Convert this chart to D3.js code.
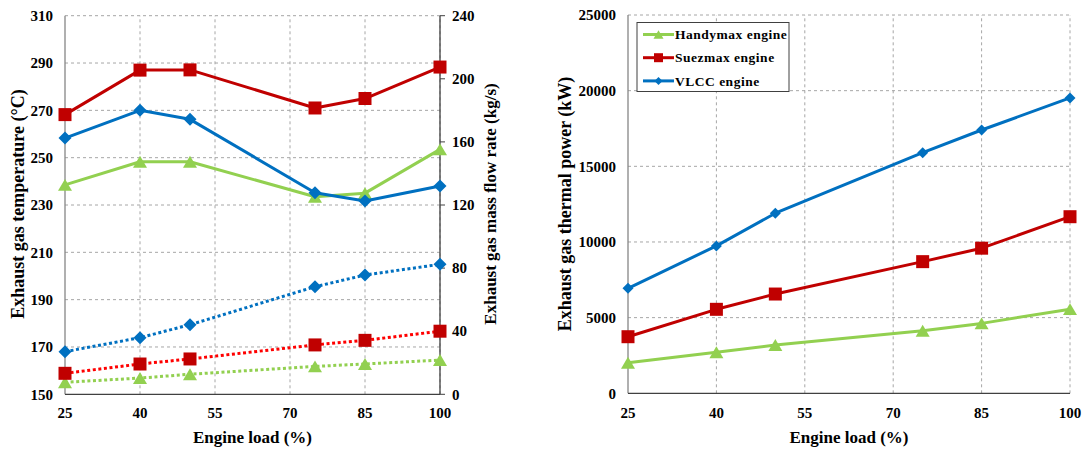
<!DOCTYPE html>
<html>
<head>
<meta charset="utf-8">
<script src="https://cdnjs.cloudflare.com/ajax/libs/d3/7.8.5/d3.min.js"></script>
<style>
    html, body { margin: 0; padding: 0; background: #fff; }
    svg { display: block; }
</style>
</head>
<body>
<svg id="chart" width="1088" height="450" font-family="'Liberation Serif', 'DejaVu Serif', serif" font-weight="bold"></svg>
<script>
// engine load points and axis ticks
var loads = [25, 40, 50, 75, 85, 100];
var loadTicks = [25, 40, 55, 70, 85, 100];
var tempTicks = [150, 170, 190, 210, 230, 250, 270, 290, 310];
var flowTicks = [0, 40, 80, 120, 160, 200, 240];
var powerTicks = [0, 5000, 10000, 15000, 20000, 25000];

// exhaust gas temperature (degC)
var tempHandymax = [238.5, 248.3, 248.3, 233.5, 235, 253.5];
var tempSuezmax = [268.2, 287, 287.1, 271, 275, 288.3];
var tempVLCC = [258.3, 270, 266.2, 235.2, 231.7, 238];

// exhaust gas mass flow rate (kg/s)
var flowHandymax = [7.6, 10.3, 12.7, 17.7, 19.2, 21.7];
var flowSuezmax = [13.3, 19.2, 22.4, 31.3, 34.2, 40];
var flowVLCC = [27, 35.9, 44.1, 68.2, 75.6, 82.4];

// exhaust gas thermal power (kW)
var powerHandymax = [2020, 2710, 3190, 4130, 4620, 5560];
var powerSuezmax = [3740, 5550, 6560, 8700, 9590, 11670];
var powerVLCC = [6940, 9740, 11900, 15900, 17400, 19520];

var legendNames = ['Handymax engine', 'Suezmax engine', 'VLCC engine'];

var GREEN = '#92D050', RED = '#C00000', BRIGHT_RED = '#FF0000', BLUE = '#0070C0';
var GRID = '#A6A6A6';

var svg = d3.select('#chart');

function markerPath(type, r) {
    if (type === 'square') {
        return 'M' + (-r) + ',' + (-r) + 'H' + r + 'V' + r + 'H' + (-r) + 'Z';
    } else if (type === 'diamond') {
        return 'M0,' + (-r) + 'L' + r + ',0L0,' + r + 'L' + (-r) + ',0Z';
    } else {
        var h = r * 1.7;
        return 'M0,' + (-h / 2) + 'L' + r + ',' + (h / 2) + 'L' + (-r) + ',' + (h / 2) + 'Z';
    }
}

function drawGrid(g, x, y, yTicks) {
    var xr = x.range(), yr = y.range();
    g.append('g').selectAll('line').data(loadTicks.slice(1)).enter().append('line')
        .attr('x1', function(d) { return x(d); }).attr('x2', function(d) { return x(d); })
        .attr('y1', yr[0]).attr('y2', yr[1])
        .attr('stroke', GRID).attr('stroke-width', 1).attr('stroke-dasharray', '3,3');
    g.append('g').selectAll('line').data(yTicks.slice(1)).enter().append('line')
        .attr('x1', xr[0]).attr('x2', xr[1])
        .attr('y1', function(d) { return y(d); }).attr('y2', function(d) { return y(d); })
        .attr('stroke', GRID).attr('stroke-width', 1).attr('stroke-dasharray', '3,3');
}

function drawSeries(g, x, y, values, color, markerColor, marker, r, dotted) {
    var pts = loads.map(function(l, i) { return [l, values[i]]; });
    var line = d3.line().x(function(d) { return x(d[0]); }).y(function(d) { return y(d[1]); });
    g.append('path')
        .datum(pts)
        .attr('d', line)
        .attr('fill', 'none')
        .attr('stroke', color)
        .attr('stroke-width', 3)
        .attr('stroke-dasharray', dotted ? '3,2.6' : null)
        .attr('stroke-linejoin', 'round');
    g.append('g').selectAll('path').data(pts).enter().append('path')
        .attr('d', markerPath(marker, r))
        .attr('transform', function(d) { return 'translate(' + x(d[0]) + ',' + y(d[1]) + ')'; })
        .attr('fill', markerColor);
}

function xAxisLabels(g, x, yPos) {
    g.append('g').selectAll('text').data(loadTicks).enter().append('text')
        .attr('x', function(d) { return x(d); })
        .attr('y', yPos)
        .attr('text-anchor', 'middle')
        .attr('font-size', 15)
        .text(function(d) { return d; });
}

// ---------- left chart: temperature + mass flow ----------
var xL = d3.scaleLinear().domain([25, 100]).range([65, 440]);
var yTemp = d3.scaleLinear().domain([150, 310]).range([394.3, 15.7]);
var yFlow = d3.scaleLinear().domain([0, 240]).range([394.3, 15.7]);

var gL = svg.append('g');
drawGrid(gL, xL, yTemp, tempTicks);

// axes lines
gL.append('line').attr('x1', 65).attr('x2', 65).attr('y1', 15.7).attr('y2', 394.3)
    .attr('stroke', '#868686').attr('stroke-width', 1.3);
gL.append('line').attr('x1', 440).attr('x2', 440).attr('y1', 15.7).attr('y2', 394.3)
    .attr('stroke', '#404040').attr('stroke-width', 1.3);
gL.append('line').attr('x1', 65).attr('x2', 440).attr('y1', 394.3).attr('y2', 394.3)
    .attr('stroke', '#404040').attr('stroke-width', 1.3);
gL.append('g').selectAll('line').data(flowTicks).enter().append('line')
    .attr('x1', 440).attr('x2', 445)
    .attr('y1', function(d) { return yFlow(d); }).attr('y2', function(d) { return yFlow(d); })
    .attr('stroke', '#404040').attr('stroke-width', 1);

drawSeries(gL, xL, yFlow, flowHandymax, GREEN, GREEN, 'triangle', 7, true);
drawSeries(gL, xL, yFlow, flowSuezmax, BRIGHT_RED, RED, 'square', 6.5, true);
drawSeries(gL, xL, yFlow, flowVLCC, BLUE, BLUE, 'diamond', 6.5, true);
drawSeries(gL, xL, yTemp, tempHandymax, GREEN, GREEN, 'triangle', 7, false);
drawSeries(gL, xL, yTemp, tempSuezmax, RED, RED, 'square', 6.5, false);
drawSeries(gL, xL, yTemp, tempVLCC, BLUE, BLUE, 'diamond', 6.5, false);

gL.append('g').selectAll('text').data(tempTicks).enter().append('text')
    .attr('x', 53).attr('y', function(d) { return yTemp(d); })
    .attr('dy', '0.35em').attr('text-anchor', 'end').attr('font-size', 15)
    .text(function(d) { return d; });
gL.append('g').selectAll('text').data(flowTicks).enter().append('text')
    .attr('x', 452).attr('y', function(d) { return yFlow(d); })
    .attr('dy', '0.35em').attr('text-anchor', 'start').attr('font-size', 15)
    .text(function(d) { return d; });
xAxisLabels(gL, xL, 418);

gL.append('text').attr('x', 252.5).attr('y', 443).attr('text-anchor', 'middle')
    .attr('font-size', 17).text('Engine load (%)');
gL.append('text').attr('transform', 'translate(24,204) rotate(-90)').attr('text-anchor', 'middle')
    .attr('font-size', 18).text('Exhaust gas temperature (\u00B0C)');
gL.append('text').attr('transform', 'translate(496,204) rotate(-90)').attr('text-anchor', 'middle')
    .attr('font-size', 17).text('Exhaust gas mass flow rate (kg/s)');

// ---------- right chart: thermal power ----------
var xR = d3.scaleLinear().domain([25, 100]).range([628, 1070]);
var yPow = d3.scaleLinear().domain([0, 25000]).range([393.3, 15]);

var gR = svg.append('g');
drawGrid(gR, xR, yPow, powerTicks);
gR.append('line').attr('x1', 628).attr('x2', 628).attr('y1', 15).attr('y2', 393.3)
    .attr('stroke', '#868686').attr('stroke-width', 1.3);
gR.append('line').attr('x1', 628).attr('x2', 1070).attr('y1', 393.3).attr('y2', 393.3)
    .attr('stroke', '#404040').attr('stroke-width', 1.3);

drawSeries(gR, xR, yPow, powerHandymax, GREEN, GREEN, 'triangle', 7, false);
drawSeries(gR, xR, yPow, powerSuezmax, RED, RED, 'square', 6.5, false);
drawSeries(gR, xR, yPow, powerVLCC, BLUE, BLUE, 'diamond', 5.5, false);

gR.append('g').selectAll('text').data(powerTicks).enter().append('text')
    .attr('x', 616).attr('y', function(d) { return yPow(d); })
    .attr('dy', '0.35em').attr('text-anchor', 'end').attr('font-size', 15)
    .text(function(d) { return d; });
xAxisLabels(gR, xR, 418);

gR.append('text').attr('x', 849).attr('y', 443).attr('text-anchor', 'middle')
    .attr('font-size', 17).text('Engine load (%)');
gR.append('text').attr('transform', 'translate(571,204) rotate(-90)').attr('text-anchor', 'middle')
    .attr('font-size', 18).text('Exhaust gas thermal power (kW)');

// legend
var legend = gR.append('g').attr('transform', 'translate(637,22.5)');
legend.append('rect').attr('width', 152).attr('height', 69)
    .attr('fill', '#fff').attr('stroke', '#404040').attr('stroke-width', 1);
var legendItems = [
    {name: legendNames[0], color: GREEN, marker: 'triangle', r: 5},
    {name: legendNames[1], color: RED, marker: 'square', r: 4.5},
    {name: legendNames[2], color: BLUE, marker: 'diamond', r: 4}
];
var rows = legend.selectAll('g.row').data(legendItems).enter().append('g')
    .attr('class', 'row')
    .attr('transform', function(d, i) { return 'translate(0,' + (12 + i * 23.2) + ')'; });
rows.append('line').attr('x1', 6).attr('x2', 37).attr('y1', 0).attr('y2', 0)
    .attr('stroke', function(d) { return d.color; }).attr('stroke-width', 3);
rows.append('path').attr('d', function(d) { return markerPath(d.marker, d.r); })
    .attr('transform', 'translate(21.5,0)').attr('fill', function(d) { return d.color; });
rows.append('text').attr('x', 38).attr('y', 0).attr('dy', '0.35em')
    .attr('font-size', 13.5).attr('letter-spacing', 0.5)
    .text(function(d) { return d.name; });
</script>
</body>
</html>
